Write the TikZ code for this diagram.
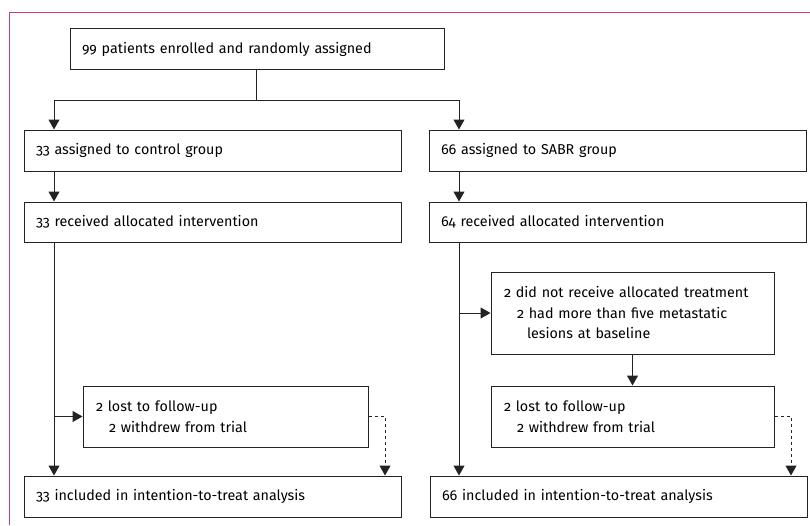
\documentclass[tikz,border=0pt]{standalone}
\usepackage{fontspec}
\setmainfont{Fira Sans}[Numbers=OldStyle]
\usetikzlibrary{arrows.meta}
\definecolor{framered}{RGB}{214,60,100}
\definecolor{boxline}{RGB}{35,35,35}

\begin{document}
\begin{tikzpicture}[x=1pt, y=-1pt,
		box/.style={draw=boxline, line width=1pt, inner xsep=12pt, inner ysep=0pt, font=\fontsize{14.3}{20.5}\selectfont,
			minimum height=#1, text width=377pt-24pt, align=left},
		box/.default=41pt,
		smallbox/.style={box=#1, inner xsep=13pt, text width=285pt-26pt},
		smallbox/.default=61pt,
		link/.style={draw=boxline, line width=1pt, -{Triangle[length=10pt, width=11pt]}},
		plain/.style={draw=boxline, line width=1pt}]
		\useasboundingbox (0,0) rectangle (810,525);
		\draw[framered, line width=1pt] (810,12) -- (9,12) -- (9,525);

		\node[box, text width=374pt-24pt] (enrol) at (257, 49) {99 patients enrolled and randomly assigned};
		\node[box] (ctrl) at (212.5, 150.5) {33 assigned to control group};
		\node[box] (sabr) at (617.5, 150.5) {66 assigned to SABR group};
		\node[box=40pt] (recC) at (212.5, 222) {33 received allocated intervention};
		\node[box=40pt] (recS) at (617.5, 222) {64 received allocated intervention};
		\node[smallbox=82pt, text width=283pt-26pt] (notrec) at (632.5, 313) {2 did not receive allocated treatment\\
			\hspace*{13pt}2 had more than five metastatic\\
			\hspace*{23pt}lesions at baseline};
		\node[smallbox] (lostC) at (225.5, 416.5) {2 lost to follow-up\\
			\hspace*{13pt}2 withdrew from trial};
		\node[smallbox, text width=283pt-26pt] (lostS) at (632.5, 416.5) {2 lost to follow-up\\
			\hspace*{13pt}2 withdrew from trial};
		\node[box] (ittC) at (212.5, 496.5) {33 included in intention-to-treat analysis};
		\node[box] (ittS) at (618.5, 496.5) {66 included in intention-to-treat analysis};

		\coordinate (split) at (256, 100);
		\coordinate (splitL) at (54, 100);
		\coordinate (splitR) at (459, 100);
		\coordinate (dashC) at (385, 416.5);
		\coordinate (dashS) at (791, 416.5);

		% randomisation
		\draw[plain] (enrol.south -| split) -- (split);
		\draw[link] (split) -- (splitL) -- (ctrl.north -| splitL);
		\draw[link] (split) -- (splitR) -- (sabr.north -| splitR);

		% control arm
		\draw[link] (ctrl.south -| splitL) -- (recC.north -| splitL);
		\draw[link] (recC.south -| splitL) -- (ittC.north -| splitL);
		\draw[link] (splitL |- lostC.west) -- (lostC.west);
		\draw[link, dashed, dash pattern=on 3pt off 3pt] (lostC.east) -- (dashC) -- (dashC |- ittC.north);

		% SABR arm
		\draw[link] (sabr.south -| splitR) -- (recS.north -| splitR);
		\draw[link] (recS.south -| splitR) -- (ittS.north -| splitR);
		\draw[link] (splitR |- notrec.west) -- (notrec.west);
		\draw[link] (notrec.south) -- (lostS.north);
		\draw[link, dashed, dash pattern=on 3pt off 3pt] (lostS.east) -- (dashS) -- (dashS |- ittS.north);
\end{tikzpicture}
\end{document}
